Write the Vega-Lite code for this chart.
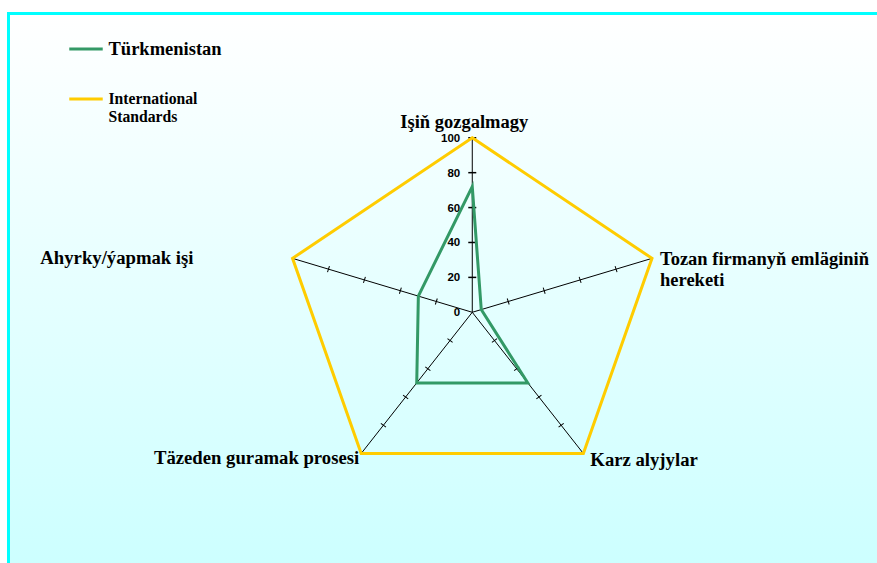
{
  "$schema": "https://vega.github.io/schema/vega-lite/v6.json",
  "width": 875,
  "height": 555,
  "autosize": {"type": "none"},
  "padding": {"left": 8.5, "top": 13.5, "right": 0, "bottom": 0},
  "background": "#ffffff",
  "config": {
    "view": {
      "stroke": "#00ffff",
      "strokeWidth": 3,
      "fill": {"gradient": "linear", "x1": 0, "y1": 0, "x2": 0, "y2": 1,
        "stops": [{"offset": 0, "color": "#ffffff"}, {"offset": 1, "color": "#ccffff"}]}
    }
  },
  "datasets": {
    "series": [
      {"series": "Türkmenistan", "axis": "Işiň gozgalmagy", "idx": 0, "value": 72},
      {"series": "Türkmenistan", "axis": "Tozan firmanyň emläginiň hereketi", "idx": 1, "value": 5},
      {"series": "Türkmenistan", "axis": "Karz alyjylar", "idx": 2, "value": 50},
      {"series": "Türkmenistan", "axis": "Täzeden guramak prosesi", "idx": 3, "value": 50},
      {"series": "Türkmenistan", "axis": "Ahyrky/ýapmak işi", "idx": 4, "value": 30},
      {"series": "International Standards", "axis": "Işiň gozgalmagy", "idx": 0, "value": 100},
      {"series": "International Standards", "axis": "Tozan firmanyň emläginiň hereketi", "idx": 1, "value": 100},
      {"series": "International Standards", "axis": "Karz alyjylar", "idx": 2, "value": 100},
      {"series": "International Standards", "axis": "Täzeden guramak prosesi", "idx": 3, "value": 100},
      {"series": "International Standards", "axis": "Ahyrky/ýapmak işi", "idx": 4, "value": 100}
    ],
    "axes": [
      {"idx": 0, "label": "Işiň gozgalmagy", "ticks": [20, 40, 60, 80, 100]},
      {"idx": 1, "label": "Tozan firmanyň emläginiň\nhereketi", "ticks": [20, 40, 60, 80]},
      {"idx": 2, "label": "Karz alyjylar", "ticks": [20, 40, 60, 80]},
      {"idx": 3, "label": "Täzeden guramak prosesi", "ticks": [20, 40, 60, 80]},
      {"idx": 4, "label": "Ahyrky/ýapmak işi", "ticks": [20, 40, 60, 80]}
    ],
    "scale": [{"t": 0}, {"t": 20}, {"t": 40}, {"t": 60}, {"t": 80}, {"t": 100}]
  },
  "encoding": {
    "x": {"field": "px", "type": "quantitative", "scale": {"domain": [-245.4, 217.6], "nice": false, "zero": false}, "axis": null},
    "y": {"field": "py", "type": "quantitative", "scale": {"domain": [-146.8, 171.2], "nice": false, "zero": false}, "axis": null}
  },
  "layer": [
    {
      "data": {"name": "axes"},
      "transform": [
        {"calculate": "(90 - 72 * datum.idx) * PI / 180", "as": "theta"},
        {"calculate": "100 * cos(datum.theta)", "as": "px"},
        {"calculate": "100 * sin(datum.theta)", "as": "py"}
      ],
      "mark": {"type": "rule", "color": "#000000", "strokeWidth": 1},
      "encoding": {
        "x2": {"datum": 0},
        "y2": {"datum": 0}
      }
    },
    {
      "data": {"name": "axes"},
      "transform": [
        {"filter": "datum.idx != 0"},
        {"flatten": ["ticks"], "as": ["t"]},
        {"calculate": "(90 - 72 * datum.idx) * PI / 180", "as": "theta"},
        {"calculate": "datum.t * cos(datum.theta)", "as": "px"},
        {"calculate": "datum.t * sin(datum.theta)", "as": "py"},
        {"calculate": "72 * datum.idx", "as": "ang"}
      ],
      "mark": {"type": "point", "shape": "stroke", "size": 40, "stroke": "#000000", "strokeWidth": 1, "filled": false, "opacity": 1},
      "encoding": {
        "angle": {"field": "ang", "type": "quantitative", "scale": null}
      }
    },
    {
      "data": {"name": "axes"},
      "transform": [
        {"filter": "datum.idx == 0"},
        {"flatten": ["ticks"], "as": ["t"]},
        {"calculate": "0", "as": "px"},
        {"calculate": "datum.t", "as": "py"}
      ],
      "mark": {"type": "point", "shape": "stroke", "size": 64, "stroke": "#000000", "strokeWidth": 1.5, "filled": false, "opacity": 1}
    },
    {
      "data": {"name": "scale"},
      "transform": [
        {"calculate": "0", "as": "px"},
        {"calculate": "datum.t", "as": "py"}
      ],
      "mark": {"type": "text", "align": "right", "baseline": "middle", "dx": -12, "dy": 1, "font": "Liberation Sans", "fontWeight": "bold", "fontSize": 11.5, "color": "#000000"},
      "encoding": {"text": {"field": "t", "type": "quantitative"}}
    },
    {
      "data": {"name": "axes"},
      "transform": [
        {"filter": "datum.idx == 0"},
        {"calculate": "0", "as": "px"},
        {"calculate": "100", "as": "py"}
      ],
      "mark": {"type": "text", "align": "center", "baseline": "alphabetic", "dx": -8, "dy": -10, "font": "Liberation Serif", "fontWeight": "bold", "fontSize": 18.5, "color": "#000000"},
      "encoding": {"text": {"field": "label"}}
    },
    {
      "data": {"name": "axes"},
      "transform": [
        {"filter": "datum.idx == 1"},
        {"calculate": "(90 - 72 * datum.idx) * PI / 180", "as": "theta"},
        {"calculate": "100 * cos(datum.theta)", "as": "px"},
        {"calculate": "100 * sin(datum.theta)", "as": "py"}
      ],
      "mark": {"type": "text", "align": "left", "baseline": "alphabetic", "dx": 8, "dy": 7, "lineBreak": "\n", "lineHeight": 20.7, "font": "Liberation Serif", "fontWeight": "bold", "fontSize": 18.5, "color": "#000000"},
      "encoding": {"text": {"field": "label"}}
    },
    {
      "data": {"name": "axes"},
      "transform": [
        {"filter": "datum.idx == 2"},
        {"calculate": "(90 - 72 * datum.idx) * PI / 180", "as": "theta"},
        {"calculate": "100 * cos(datum.theta)", "as": "px"},
        {"calculate": "100 * sin(datum.theta)", "as": "py"}
      ],
      "mark": {"type": "text", "align": "left", "baseline": "alphabetic", "dx": 7, "dy": 13, "font": "Liberation Serif", "fontWeight": "bold", "fontSize": 18.7, "color": "#000000"},
      "encoding": {"text": {"field": "label"}}
    },
    {
      "data": {"name": "axes"},
      "transform": [
        {"filter": "datum.idx == 3"},
        {"calculate": "(90 - 72 * datum.idx) * PI / 180", "as": "theta"},
        {"calculate": "100 * cos(datum.theta)", "as": "px"},
        {"calculate": "100 * sin(datum.theta)", "as": "py"}
      ],
      "mark": {"type": "text", "align": "right", "baseline": "alphabetic", "dx": -2, "dy": 11, "font": "Liberation Serif", "fontWeight": "bold", "fontSize": 18.7, "color": "#000000"},
      "encoding": {"text": {"field": "label"}}
    },
    {
      "data": {"name": "axes"},
      "transform": [
        {"filter": "datum.idx == 4"},
        {"calculate": "(90 - 72 * datum.idx) * PI / 180", "as": "theta"},
        {"calculate": "100 * cos(datum.theta)", "as": "px"},
        {"calculate": "100 * sin(datum.theta)", "as": "py"}
      ],
      "mark": {"type": "text", "align": "right", "baseline": "alphabetic", "dx": -99, "dy": 6, "font": "Liberation Serif", "fontWeight": "bold", "fontSize": 18.7, "color": "#000000"},
      "encoding": {"text": {"field": "label"}}
    },
    {
      "data": {"name": "series"},
      "transform": [
        {"calculate": "(90 - 72 * datum.idx) * PI / 180", "as": "theta"},
        {"calculate": "datum.value * cos(datum.theta)", "as": "px"},
        {"calculate": "datum.value * sin(datum.theta)", "as": "py"}
      ],
      "mark": {"type": "line", "interpolate": "linear-closed", "strokeWidth": 3, "strokeJoin": "miter"},
      "encoding": {
        "order": {"field": "idx", "type": "quantitative"},
        "color": {
          "field": "series", "type": "nominal",
          "scale": {"domain": ["Türkmenistan", "International Standards"], "range": ["#339966", "#ffcc00"]},
          "legend": {
            "title": null,
            "orient": "none",
            "legendX": 59,
            "legendY": 17,
            "symbolType": "stroke",
            "symbolStrokeWidth": 3,
            "symbolSize": 1120,
            "labelFont": "Liberation Serif",
            "labelFontWeight": "bold",
            "labelFontSize": {"expr": "datum.label == 'Türkmenistan' ? 18.5 : 15.7"},
            "labelExpr": "datum.label == 'International Standards' ? ['International', 'Standards'] : datum.label",
            "labelColor": "#000000",
            "labelOffset": 4,
            "labelLimit": 300,
            "rowPadding": 22
          }
        }
      }
    }
  ]
}
